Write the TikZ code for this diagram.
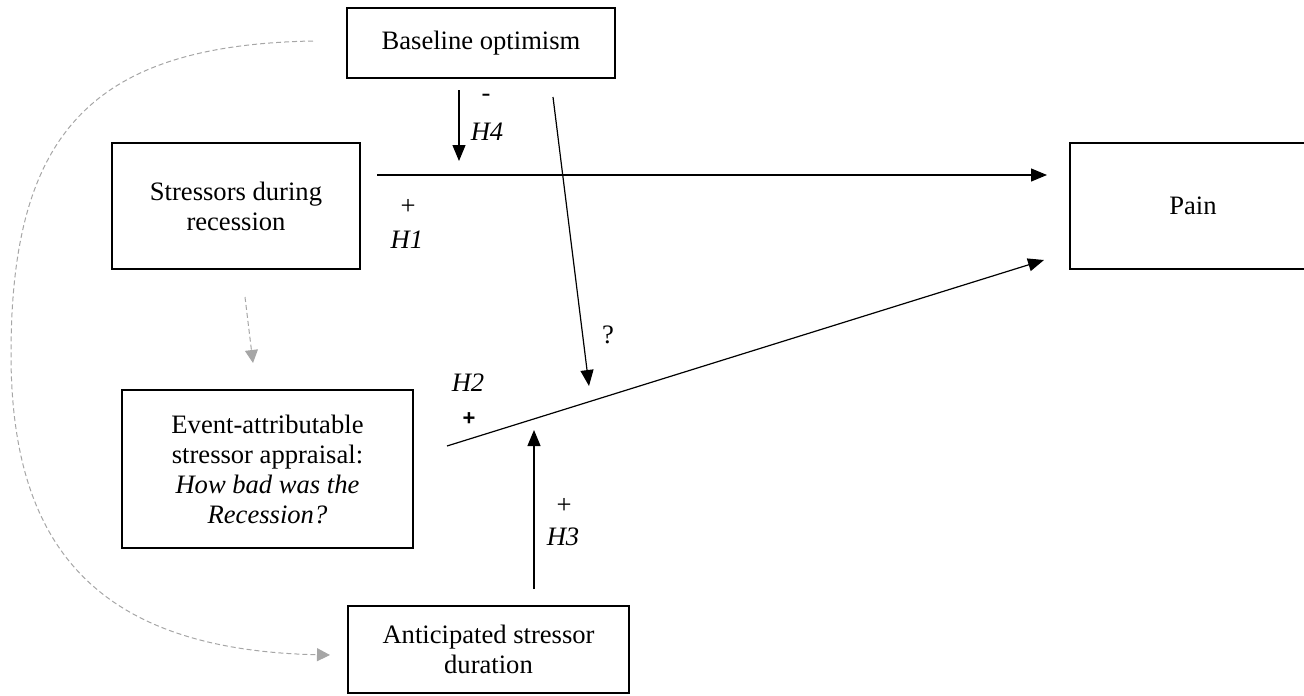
\documentclass[tikz,border=0pt]{standalone}
\usepackage{fontspec}
\setmainfont{Liberation Serif}
\newfontfamily\plusfont{Liberation Sans}
\usetikzlibrary{arrows.meta}
\definecolor{dgray}{HTML}{A6A6A6}
\begin{document}
\begin{tikzpicture}[x=1pt,y=-1pt,
  box/.style={draw, line width=2.4pt, inner sep=0pt, outer sep=0pt, align=center, font=\fontsize{26.6}{30}\selectfont},
  lbl/.style={inner sep=0pt, font=\fontsize{26.6}{30}\selectfont},
  arr/.style={line width=1.2pt, -{Triangle[length=16pt,width=13pt]}},
  garr/.style={draw=dgray, line width=1pt, dash pattern=on 5pt off 3pt, -{Triangle[length=13pt,width=13pt]}},
]
\useasboundingbox (0,0) rectangle (1304,696);

% boxes
\node[box, minimum width=268pt, minimum height=70pt] (base) at (481,43) {Baseline optimism};
\node[box, minimum width=248pt, minimum height=126pt] (stress) at (236,206) {Stressors during\\recession};
\node[box, minimum width=291pt, minimum height=158pt] (event) at (267.5,469) {Event-attributable\\stressor appraisal:\\\textit{How bad was the}\\\textit{Recession?}};
\node[box, minimum width=281pt, minimum height=87pt] (antic) at (488.5,649.5) {Anticipated stressor\\duration};
\node[box, minimum width=246pt, minimum height=126pt] (pain) at (1193,206) {Pain};

% free ends
\coordinate (h4s) at (459,90);
\coordinate (h4e) at (459,161);
\coordinate (h1s) at (377,175);
\coordinate (h1e) at (1047,175);
\coordinate (h2s) at (447,446);
\coordinate (h2e) at (1044,260);
\coordinate (qs) at (553,97);
\coordinate (qe) at (589,386);
\coordinate (h3s) at (534,589);
\coordinate (h3e) at (534,430);
\coordinate (gs) at (245,297);
\coordinate (ge) at (253,363);
\coordinate (cs) at (313,41);
\coordinate (cm) at (11,354);
\coordinate (ce) at (330,655);

% connectors
\draw[arr] (h4s) -- (h4e);
\draw[arr] (h1s) -- (h1e);
\draw[arr] (h2s) -- (h2e);
\draw[arr] (qs) -- (qe);
\draw[arr] (h3s) -- (h3e);
\draw[garr] (gs) -- (ge);
\draw[garr] (cs) .. controls (92,45) and (11,133) .. (cm)
                 .. controls (11,540) and (90,650) .. (ce);

% labels
\node[lbl] (m4) at (486,98) {-};
\node[lbl] (l4) at (487,132) {\textit{H4}};
\node[lbl] (p1) at (408,207) {+};
\node[lbl] (l1) at (407,240) {\textit{H1}};
\node[lbl] (q) at (608,335) {?};
\node[lbl] (l2) at (468,383) {\textit{H2}};
\node[lbl, font=\plusfont\bfseries\fontsize{22}{26}\selectfont] (p2) at (469,419) {+};
\node[lbl] (p3) at (564,506) {+};
\node[lbl] (l3) at (563,537) {\textit{H3}};
\end{tikzpicture}
\end{document}
